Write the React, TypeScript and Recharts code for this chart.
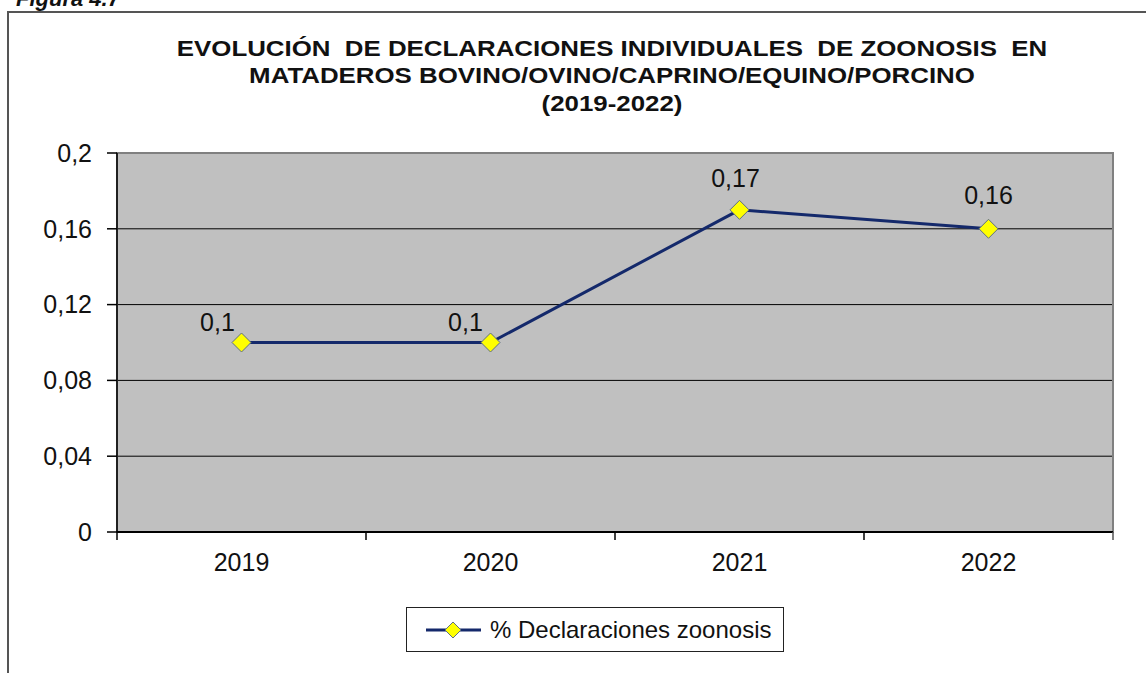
import {
  LineChart,
  Line,
  XAxis,
  YAxis,
  CartesianGrid,
  ReferenceArea,
  Legend,
  LabelList,
} from 'recharts';

const years = ['2019', '2020', '2021', '2022'];
const declaraciones = [0.1, 0.1, 0.17, 0.16];
const yTicks = [0, 0.04, 0.08, 0.12, 0.16, 0.2];
const titleLines = [
  'EVOLUCIÓN  DE DECLARACIONES INDIVIDUALES  DE ZOONOSIS  EN',
  'MATADEROS BOVINO/OVINO/CAPRINO/EQUINO/PORCINO',
  '(2019-2022)',
];
const seriesName = '% Declaraciones zoonosis';

// label nudges (the original labels were moved by hand in Excel)
const labelNudge = [
  { dx: -24, dy: -12 },
  { dx: -25, dy: -12 },
  { dx: -4, dy: -23 },
  { dx: 0, dy: -25 },
];

const data = years.map((year, i) => ({ year, value: declaraciones[i] }));

const FONT = '"Liberation Sans", Arial, sans-serif';
const LINE_COLOR = '#14296b';
const X_TICK_SIZE = 8;
const X_TICK_MARGIN = 13;

const fmt = (v: number) => String(v).replace('.', ',');

function Diamond({ cx, cy, size = 9.5 }: { cx?: number; cy?: number; size?: number }) {
  if (cx == null || cy == null) return null;
  const r = size;
  return (
    <polygon
      points={`${cx},${cy - r} ${cx + r},${cy} ${cx},${cy + r} ${cx - r},${cy}`}
      fill="#ffff00"
      stroke="#5f6f80"
      strokeWidth={1}
    />
  );
}

function XTick(props: any) {
  const { x, y, payload, index, visibleTicksCount } = props;
  const half = payload?.offset ?? 0;
  const axisY = y - X_TICK_SIZE - X_TICK_MARGIN;
  const last = index === visibleTicksCount - 1;
  return (
    <g>
      <line x1={x - half} x2={x - half} y1={axisY} y2={axisY + X_TICK_SIZE} stroke="#000" strokeWidth={1.5} />
      {last && (
        <line x1={x + half} x2={x + half} y1={axisY} y2={axisY + X_TICK_SIZE} stroke="#555" strokeWidth={1.5} />
      )}
      <text x={x} y={y} dy="0.71em" textAnchor="middle" fontSize={25} fontFamily={FONT} fill="#111">
        {payload.value}
      </text>
    </g>
  );
}

function PointLabel(props: any) {
  const { x, y, value, index } = props;
  const n = labelNudge[index] ?? { dx: 0, dy: -20 };
  return (
    <text x={x + n.dx} y={y + n.dy} textAnchor="middle" fontSize={25} fontFamily={FONT} fill="#111">
      {fmt(value)}
    </text>
  );
}

function LegendBox() {
  return (
    <div
      style={{
        width: 378,
        height: 45,
        boxSizing: 'border-box',
        border: '1.5px solid #222',
        background: '#fff',
        display: 'flex',
        alignItems: 'center',
        fontFamily: FONT,
        fontSize: 24,
        color: '#111',
      }}
    >
      <svg width={66} height={30} style={{ marginLeft: 17, flex: 'none' }}>
        <line x1={2} x2={57} y1={15} y2={15} stroke={LINE_COLOR} strokeWidth={3} />
        <Diamond cx={29} cy={15} size={8} />
      </svg>
      <span style={{ whiteSpace: 'nowrap' }}>{seriesName}</span>
    </div>
  );
}

export default function App() {
  return (
    <div
      style={{
        position: 'absolute',
        left: 0,
        top: 0,
        width: 1146,
        height: 673,
        overflow: 'hidden',
        background: '#fff',
      }}
    >
      <div
        style={{
          position: 'absolute',
          left: 16,
          top: -12,
          fontFamily: FONT,
          fontSize: 22,
          lineHeight: '22px',
          fontWeight: 'bold',
          fontStyle: 'italic',
          color: '#111',
        }}
      >
        Figura 4.7
      </div>
      <div
        style={{
          position: 'absolute',
          left: 7,
          top: 11,
          width: 1300,
          height: 800,
          border: '2px solid #555',
        }}
      />
      <div style={{ position: 'absolute', left: 0, top: 0 }}>
        <LineChart width={1146} height={673} data={data} margin={{ top: 153, right: 33, bottom: 101, left: 17 }}>
          <CartesianGrid vertical={false} stroke="#000" strokeWidth={1} fill="#c0c0c0" fillOpacity={1} />
          <ReferenceArea y1={0} y2={0.2} stroke="#808080" strokeWidth={2} fill="none" ifOverflow="visible" />
          <XAxis
            dataKey="year"
            scale="band"
            height={40}
            tickLine={false}
            tickSize={X_TICK_SIZE}
            tickMargin={X_TICK_MARGIN}
            tick={<XTick />}
            axisLine={{ stroke: '#000', strokeWidth: 2 }}
            interval={0}
          />
          <YAxis
            width={100}
            domain={[0, 0.2]}
            ticks={yTicks}
            tickFormatter={fmt}
            tickSize={10}
            tickMargin={15}
            tickLine={{ stroke: '#000', strokeWidth: 1.5 }}
            axisLine={{ stroke: '#000', strokeWidth: 1.5 }}
            tick={{ fontSize: 25, fontFamily: FONT, fill: '#111' }}
            interval={0}
          />
          <Legend
            layout="horizontal"
            verticalAlign="middle"
            align="center"
            wrapperStyle={{ left: 406, top: 607, width: 378 }}
            content={() => <LegendBox />}
          />
          <Line
            type="linear"
            dataKey="value"
            name={seriesName}
            stroke={LINE_COLOR}
            strokeWidth={3}
            dot={<Diamond />}
            activeDot={false}
            isAnimationActive={false}
          >
            <LabelList dataKey="value" content={<PointLabel />} />
          </Line>
        </LineChart>
      </div>
      <div
        style={{
          position: 'absolute',
          left: 0,
          top: 34.6,
          width: 1224,
          textAlign: 'center',
          fontFamily: FONT,
          fontSize: 22,
          lineHeight: '27.5px',
          fontWeight: 'bold',
          color: '#111',
          whiteSpace: 'pre',
          transform: 'scaleX(1.175)',
          transformOrigin: '612px 0',
        }}
      >
        {titleLines.map((t) => (
          <div key={t}>{t}</div>
        ))}
      </div>
    </div>
  );
}
